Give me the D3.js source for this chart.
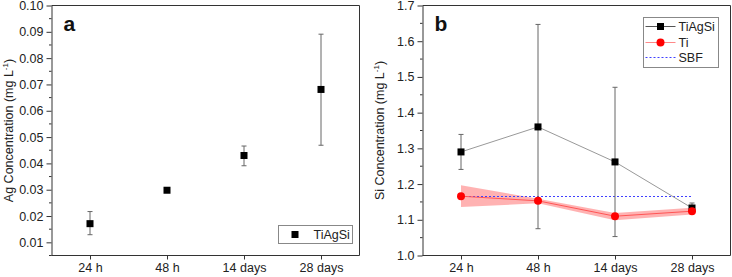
<!DOCTYPE html>
<html>
<head>
<meta charset="utf-8">
<script src="https://cdn.jsdelivr.net/npm/d3@7"></script>
<style>
  body { margin: 0; background: #fff; }
  svg { display: block; font-family: "Liberation Sans", Arial, sans-serif; }
  .tick text { fill: #222; font-size: 12.5px; }
</style>
</head>
<body>
<svg id="chart" width="732" height="277"></svg>
<script>
// categories shared by both panels
const times = ["24 h", "48 h", "14 days", "28 days"];

// panel a: Ag release, TiAgSi
const agMean = [0.0171, 0.0298, 0.0430, 0.0681];
const agLow  = [0.0129, 0.0298, 0.0391, 0.0469];
const agHigh = [0.0217, 0.0298, 0.0466, 0.0891];
const agTicks = [0.01, 0.02, 0.03, 0.04, 0.05, 0.06, 0.07, 0.08, 0.09, 0.10];

// panel b: Si release
const siTiAgSi     = [1.290, 1.360, 1.262, 1.133];
const siTiAgSiLow  = [1.241, 1.075, 1.053, 1.121];
const siTiAgSiHigh = [1.339, 1.647, 1.471, 1.147];
const siTi     = [1.166, 1.153, 1.110, 1.124];
const siTiLow  = [1.136, 1.146, 1.099, 1.115];
const siTiHigh = [1.197, 1.159, 1.119, 1.134];
const siSBF = 1.168;
const siTicks = [1.0, 1.1, 1.2, 1.3, 1.4, 1.5, 1.6, 1.7];

const svg = d3.select("#chart");
const axisColor = "#333";
const sbfColor = "#4040ff";

// draws frame, axes and minor ticks, returns scales
function setupPanel(g, box, yDomain, yTicks, fmt, minorStep, title, letter) {
    const x = d3.scalePoint().domain(times).range([box.left, box.right]).padding(0.5);
    const y = d3.scaleLinear().domain(yDomain).range([box.bottom, box.top]);

    // frame top and right
    g.append("path")
        .attr("d", `M${box.left},${box.top}H${box.right}V${box.bottom}`)
        .attr("fill", "none").attr("stroke", axisColor).attr("stroke-width", 1);

    const xAxis = g.append("g")
        .attr("transform", `translate(0,${box.bottom})`)
        .call(d3.axisBottom(x).tickSizeInner(4).tickSizeOuter(0).tickPadding(4));
    xAxis.select(".domain").attr("d", `M${box.left},0H${box.right}`);

    g.append("g")
        .attr("transform", `translate(${box.left},0)`)
        .call(d3.axisLeft(y).tickValues(yTicks).tickFormat(fmt).tickSizeInner(5).tickSizeOuter(0).tickPadding(3));

    // minor ticks
    const minors = d3.range(yDomain[0], yDomain[1] + 1e-9, minorStep)
        .filter(v => !yTicks.some(t => Math.abs(t - v) < 1e-9));
    g.append("g").selectAll("line")
        .data(minors)
        .enter()
        .append("line")
        .attr("x1", box.left - 2.5).attr("x2", box.left)
        .attr("y1", d => y(d)).attr("y2", d => y(d))
        .attr("stroke", axisColor);

    g.selectAll(".domain, .tick line").attr("stroke", axisColor);

    // axis title with superscript
    const cy = (box.top + box.bottom) / 2;
    const t = g.append("text")
        .attr("transform", `translate(${box.left - 39},${cy}) rotate(-90)`)
        .attr("text-anchor", "middle")
        .attr("font-size", 12.5)
        .attr("fill", "#222");
    t.append("tspan").text(title + " (mg L");
    t.append("tspan").attr("font-size", 8).attr("dy", -5).text("-1");
    t.append("tspan").attr("dy", 5).text(")");

    g.append("text")
        .attr("x", box.left + 12).attr("y", box.top + 25)
        .attr("font-size", 21).attr("font-weight", "bold")
        .attr("fill", "#111")
        .text(letter);

    return { x, y };
}

function errorBars(g, x, y, low, high, color) {
    const cap = 2.5;
    const eb = g.append("g").attr("stroke", color).attr("stroke-width", 1);
    times.forEach((c, i) => {
        if (high[i] - low[i] < 1e-6) return;
        const cx = x(c);
        eb.append("line").attr("x1", cx).attr("x2", cx).attr("y1", y(low[i])).attr("y2", y(high[i]));
        eb.append("line").attr("x1", cx - cap).attr("x2", cx + cap).attr("y1", y(low[i])).attr("y2", y(low[i]));
        eb.append("line").attr("x1", cx - cap).attr("x2", cx + cap).attr("y1", y(high[i])).attr("y2", y(high[i]));
    });
}

function squares(g, x, y, vals) {
    g.append("g").selectAll("rect")
        .data(vals)
        .enter()
        .append("rect")
        .attr("x", (d, i) => x(times[i]) - 3.5)
        .attr("y", d => y(d) - 3.5)
        .attr("width", 7).attr("height", 7)
        .attr("fill", "#000");
}

// ----- panel a -----
const gA = svg.append("g");
const boxA = { left: 51.5, right: 359.5, top: 5.5, bottom: 255.5 };
const a = setupPanel(gA, boxA, [0.005, 0.10], agTicks, d3.format(".2f"), 0.005, "Ag Concentration", "a");
errorBars(gA, a.x, a.y, agLow, agHigh, "#666");
squares(gA, a.x, a.y, agMean);

// legend a
const legA = gA.append("g").attr("transform", "translate(278.5,225.5)");
legA.append("rect").attr("width", 74).attr("height", 18)
    .attr("fill", "#fff").attr("stroke", "#888");
legA.append("rect").attr("x", 13).attr("y", 5.5).attr("width", 7).attr("height", 7).attr("fill", "#000");
legA.append("text").attr("x", 35).attr("y", 13.5).attr("font-size", 12.5).attr("fill", "#222").text("TiAgSi");

// ----- panel b -----
const gB = svg.append("g");
const boxB = { left: 422.5, right: 730.5, top: 5.5, bottom: 255.5 };
const b = setupPanel(gB, boxB, [1.0, 1.7], siTicks, d3.format(".1f"), 0.05, "Si Concentration", "b");

// Ti band
const area = d3.area()
    .x((d, i) => b.x(times[i]))
    .y0((d, i) => b.y(siTiLow[i]))
    .y1((d, i) => b.y(siTiHigh[i]));
gB.append("path").datum(siTi).attr("d", area)
    .attr("fill", "#ff0000").attr("fill-opacity", 0.3);

// SBF reference
gB.append("line")
    .attr("x1", b.x(times[0])).attr("x2", b.x(times[times.length - 1]))
    .attr("y1", Math.round(b.y(siSBF)) + 0.5).attr("y2", Math.round(b.y(siSBF)) + 0.5)
    .attr("stroke", sbfColor).attr("stroke-width", 1).attr("stroke-dasharray", "2,2");

const line = d3.line().x((d, i) => b.x(times[i])).y(d => b.y(d));
gB.append("path").datum(siTiAgSi).attr("d", line)
    .attr("fill", "none").attr("stroke", "#999").attr("stroke-width", 1);
gB.append("path").datum(siTi).attr("d", line)
    .attr("fill", "none").attr("stroke", "#f55").attr("stroke-width", 1);

errorBars(gB, b.x, b.y, siTiAgSiLow, siTiAgSiHigh, "#666");
squares(gB, b.x, b.y, siTiAgSi);
gB.append("g").selectAll("circle")
    .data(siTi)
    .enter()
    .append("circle")
    .attr("cx", (d, i) => b.x(times[i]))
    .attr("cy", d => b.y(d))
    .attr("r", 4)
    .attr("fill", "#ff0000");

// legend b
const legB = gB.append("g").attr("transform", "translate(643.5,17.5)");
legB.append("rect").attr("width", 75).attr("height", 50)
    .attr("fill", "#fff").attr("stroke", "#888");
const legRows = [
    { name: "TiAgSi", y: 9, stroke: "#555", dash: null, mark: "square" },
    { name: "Ti", y: 25, stroke: "#f88", dash: null, mark: "circle" },
    { name: "SBF", y: 40, stroke: sbfColor, dash: "2,2", mark: null }
];
legRows.forEach(r => {
    legB.append("line").attr("x1", 2).attr("x2", 32).attr("y1", r.y).attr("y2", r.y)
        .attr("stroke", r.stroke).attr("stroke-dasharray", r.dash);
    if (r.mark === "square")
        legB.append("rect").attr("x", 13.5).attr("y", r.y - 3.5).attr("width", 7).attr("height", 7).attr("fill", "#000");
    if (r.mark === "circle")
        legB.append("circle").attr("cx", 17).attr("cy", r.y).attr("r", 4).attr("fill", "#ff0000");
    legB.append("text").attr("x", 35).attr("y", r.y + 4.5).attr("font-size", 12.5).attr("fill", "#222").text(r.name);
});
</script>
</body>
</html>
